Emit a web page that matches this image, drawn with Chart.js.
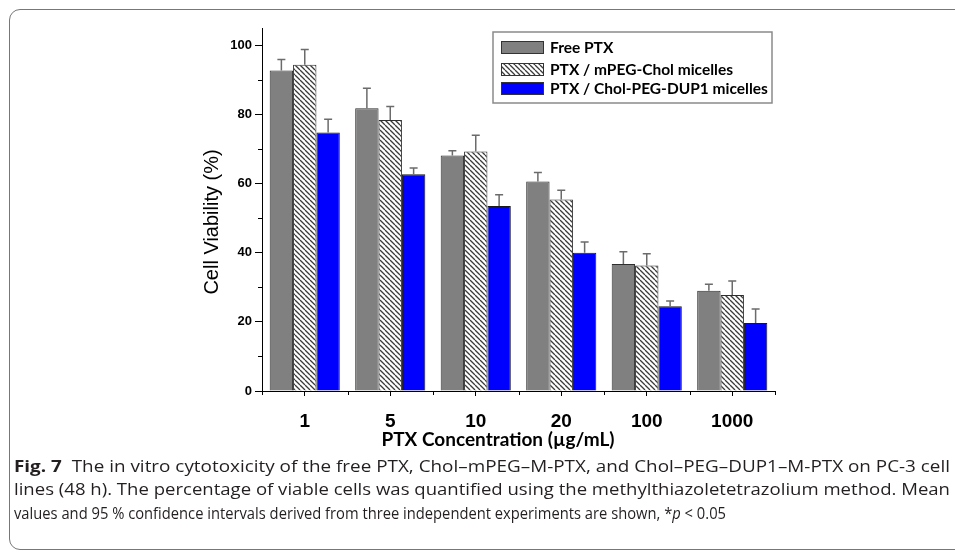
<!DOCTYPE html>
<html>
<head>
<meta charset="utf-8">
<script src="https://cdn.jsdelivr.net/npm/chart.js@4.4.0/dist/chart.umd.min.js"></script>
<style>
body { margin: 0; background: #fff; width: 955px; height: 553px; overflow: hidden; position: relative; font-family: "Open Sans", sans-serif; }
#frame { position: absolute; left: 9px; top: 9px; width: 990px; height: 541px; border: 1.5px solid #777; border-radius: 11px; box-sizing: border-box; }
#wrap { position: absolute; left: 0; top: 0; width: 955px; height: 553px; }
.cap { position: absolute; left: 14px; white-space: nowrap; font-size: 15.5px; line-height: 20px; color: #231f20; transform-origin: 0 0; }
.cap b { font-weight: 700; }
</style>
</head>
<body>
<div id="frame"></div>
<div id="wrap"><canvas id="viabilityChart" width="955" height="553"></canvas></div>
<div class="cap" data-w="936" style="top:456px"><b>Fig. 7</b>&nbsp; The in vitro cytotoxicity of the free PTX, Chol–mPEG–M-PTX, and Chol–PEG–DUP1–M-PTX on PC-3 cell</div>
<div class="cap" data-w="936" style="top:479px">lines (48 h). The percentage of viable cells was quantified using the methylthiazoletetrazolium method. Mean</div>
<div class="cap" data-w="712" style="top:503px">values and 95 % confidence intervals derived from three independent experiments are shown, *<i>p</i> &lt; 0.05</div>
<script>
const concentrations = ['1', '5', '10', '20', '100', '1000'];
const seriesNames = ['Free PTX', 'PTX / mPEG-Chol micelles', 'PTX / Chol-PEG-DUP1 micelles'];

const freePTX = [92.7, 81.8, 68.1, 60.6, 36.7, 29.0];
const freePTXErr = [3.2, 5.8, 1.4, 2.6, 3.6, 1.9];
const mpegChol = [94.4, 78.4, 69.3, 55.4, 36.3, 27.8];
const mpegCholErr = [4.4, 3.9, 4.7, 2.7, 3.4, 4.0];
const cholPegDup1 = [74.8, 62.7, 53.5, 40.0, 24.5, 19.7];
const cholPegDup1Err = [3.8, 1.8, 3.3, 3.1, 1.5, 4.0];

const yMinorTicks = [10, 30, 50, 70, 90];

// fit each caption line to the width it takes in the original
document.querySelectorAll('.cap').forEach(el => {
    const w = el.getBoundingClientRect().width;
    el.style.transform = `scaleX(${el.dataset.w / w})`;
});

function makeHatch() {
    const s = 5;
    const c = document.createElement('canvas');
    c.width = s; c.height = s;
    const g = c.getContext('2d');
    g.fillStyle = '#fff';
    g.fillRect(0, 0, s, s);
    g.strokeStyle = '#3a3a3a';
    g.lineWidth = 1.3;
    g.beginPath();
    for (let k = -1; k <= 1; k++) {
        g.moveTo(k * s, 0);
        g.lineTo(k * s + s, s);
    }
    g.stroke();
    return g.createPattern(c, 'repeat');
}
const hatch = makeHatch();

const errorBars = {
    id: 'errorBars',
    afterDatasetsDraw(chart) {
        const ctx = chart.ctx;
        const y = chart.scales.y;
        ctx.save();
        ctx.strokeStyle = '#6b6b6b';
        ctx.lineWidth = 1.5;
        chart.data.datasets.forEach((ds, di) => {
            chart.getDatasetMeta(di).data.forEach((bar, i) => {
                const top = y.getPixelForValue(ds.data[i] + ds.errors[i]);
                ctx.beginPath();
                ctx.moveTo(bar.x, bar.y);
                ctx.lineTo(bar.x, top);
                ctx.moveTo(bar.x - 4, top);
                ctx.lineTo(bar.x + 4, top);
                ctx.stroke();
            });
        });
        ctx.restore();
    }
};

const minorTicks = {
    id: 'minorTicks',
    afterDraw(chart) {
        const ctx = chart.ctx;
        const area = chart.chartArea;
        const y = chart.scales.y;
        ctx.save();
        ctx.strokeStyle = '#000';
        ctx.lineWidth = 1;
        ctx.beginPath();
        yMinorTicks.forEach(v => {
            const py = Math.round(y.getPixelForValue(v)) + 0.5;
            ctx.moveTo(area.left - 4, py);
            ctx.lineTo(area.left, py);
        });
        const step = (area.right - area.left) / concentrations.length;
        for (let k = 0; k <= concentrations.length; k++) {
            const px = Math.round(area.left + k * step) + 0.5;
            ctx.moveTo(px, area.bottom);
            ctx.lineTo(px, area.bottom + 4);
        }
        ctx.stroke();
        ctx.restore();
    }
};

// axis titles sit a little off-centre in the original, so they are placed here
const axisTitles = {
    id: 'axisTitles',
    afterDraw(chart) {
        const ctx = chart.ctx;
        ctx.save();
        ctx.fillStyle = '#000';
        ctx.textAlign = 'center';
        ctx.textBaseline = 'middle';
        ctx.font = 'bold 19px Lato, "Open Sans", sans-serif';
        ctx.fillText('PTX Concentration (µg/mL)', 498, 440);
        ctx.translate(212, 222);
        ctx.rotate(-Math.PI / 2);
        ctx.font = '20px "Liberation Sans", Arial, sans-serif';
        ctx.fillText('Cell Viability (%)', 0, 0);
        ctx.restore();
    }
};

const boxLegend = {
    id: 'boxLegend',
    afterDraw(chart) {
        const ctx = chart.ctx;
        ctx.save();
        ctx.strokeStyle = '#8a8a8a';
        ctx.lineWidth = 1.5;
        ctx.strokeRect(493, 32, 279, 71);
        const rows = [41, 63, 82];
        ctx.font = 'bold 15.5px Lato, "Open Sans", sans-serif';
        ctx.textBaseline = 'middle';
        chart.data.datasets.forEach((ds, i) => {
            ctx.fillStyle = ds.backgroundColor;
            ctx.fillRect(501, rows[i], 43, 13);
            ctx.strokeStyle = '#333';
            ctx.lineWidth = 1;
            ctx.strokeRect(501.5, rows[i] + 0.5, 42, 12);
            ctx.fillStyle = '#000';
            ctx.fillText(ds.label, 550, rows[i] + 7);
        });
        ctx.restore();
    }
};

new Chart(document.getElementById('viabilityChart').getContext('2d'), {
    type: 'bar',
    data: {
        labels: concentrations,
        datasets: [{
            label: seriesNames[0],
            data: freePTX,
            errors: freePTXErr,
            backgroundColor: '#808080',
            borderColor: '#2e2e2e',
            borderWidth: 1
        }, {
            label: seriesNames[1],
            data: mpegChol,
            errors: mpegCholErr,
            backgroundColor: hatch,
            borderColor: '#2e2e2e',
            borderWidth: 1
        }, {
            label: seriesNames[2],
            data: cholPegDup1,
            errors: cholPegDup1Err,
            backgroundColor: '#0000ff',
            borderColor: '#1a1a1a',
            borderWidth: 1
        }]
    },
    options: {
        responsive: false,
        animation: false,
        layout: { padding: { left: 200, top: 28, right: 180, bottom: 102 } },
        datasets: { bar: { categoryPercentage: 0.82, barPercentage: 1 } },
        scales: {
            x: {
                afterFit: scale => { scale.height = 60; },
                grid: { offset: false, drawOnChartArea: false, tickLength: 5, color: '#000' },
                border: { display: true, color: '#000', width: 1 },
                ticks: {
                    padding: 14,
                    color: '#000',
                    font: { family: '"Liberation Sans", Arial, sans-serif', size: 19, weight: 'bold' }
                }
            },
            y: {
                min: 0,
                max: 105,
                afterFit: scale => { scale.width = 62; },
                grid: { drawOnChartArea: false, tickLength: 7, color: '#000' },
                border: { display: true, color: '#000', width: 1 },
                ticks: {
                    stepSize: 20,
                    includeBounds: false,
                    padding: 3,
                    color: '#000',
                    font: { family: '"Liberation Sans", Arial, sans-serif', size: 13, weight: 'bold' }
                }
            }
        },
        plugins: {
            legend: { display: false },
            tooltip: { enabled: false }
        }
    },
    plugins: [errorBars, minorTicks, axisTitles, boxLegend]
});
</script>
</body>
</html>
